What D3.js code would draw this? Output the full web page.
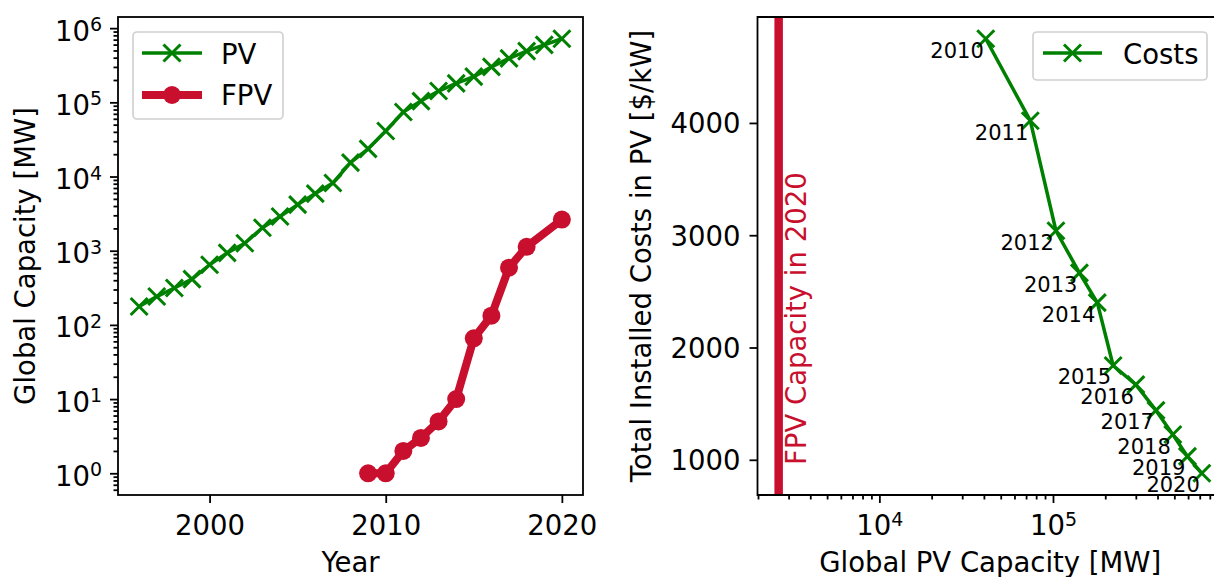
<!DOCTYPE html>
<html>
<head>
<meta charset="utf-8">
<script src="https://cdn.jsdelivr.net/npm/d3@7/dist/d3.min.js"></script>
<style>
  body { margin: 0; background: #fff; }
  svg { display: block; font-family: 'DejaVu Sans', sans-serif; }
  .axis path, .axis line { stroke: #000; stroke-width: 1.8; }
  .axis text { fill: #000; font-size: 27.5px; font-family: 'DejaVu Sans', sans-serif; }
</style>
</head>
<body>
<svg id="chart" width="1214" height="577"></svg>
<script>
// global PV capacity per year [MW]
const pvYears = [1996, 1997, 1998, 1999, 2000, 2001, 2002, 2003, 2004, 2005, 2006, 2007, 2008,
  2009, 2010, 2011, 2012, 2013, 2014, 2015, 2016, 2017, 2018, 2019, 2020];
const pvCapacity = [177, 241, 314, 414, 647, 935, 1260, 2040, 2890, 4180, 5890, 8180, 15400,
  23600, 41000, 74000, 104000, 142000, 180000, 222000, 300000, 392000, 490000, 595000, 720000];

// floating PV capacity [MW]
const fpvYears = [2009, 2010, 2011, 2012, 2013, 2014, 2015, 2016, 2017, 2018, 2020];
const fpvCapacity = [1, 1, 2, 3, 5, 10, 66, 133, 590, 1130, 2630];

// total installed costs [$/kW]
const costYears = [2010, 2011, 2012, 2013, 2014, 2015, 2016, 2017, 2018, 2019, 2020];
const costValues = [4750, 4020, 3040, 2665, 2400, 1840, 1670, 1440, 1225, 1030, 880];

const yearTicks = [2000, 2010, 2020];
const capTickExps = [0, 1, 2, 3, 4, 5, 6];
const costTicks = [1000, 2000, 3000, 4000];
const pvCapTickExps = [4, 5];

const GREEN = '#008000';
const RED = '#c8102e';
const FS = 27.5;

const svg = d3.select('#chart');

function padLinear(ext, f = 0.05) {
  const d = ext[1] - ext[0];
  return [ext[0] - d * f, ext[1] + d * f];
}
function padLog(ext, f = 0.05) {
  const a = Math.log10(ext[0]), b = Math.log10(ext[1]);
  const d = b - a;
  return [Math.pow(10, a - d * f), Math.pow(10, b + d * f)];
}
function minorLogTicks(domain) {
  const out = [];
  for (let e = Math.floor(Math.log10(domain[0])); e <= Math.ceil(Math.log10(domain[1])); e++) {
    for (let m = 2; m <= 9; m++) {
      const v = m * Math.pow(10, e);
      if (v >= domain[0] && v <= domain[1]) out.push(v);
    }
  }
  return out;
}
function powerLabel(text, d) {
  const t = d3.select(text);
  t.text(null);
  t.append('tspan').text('10');
  t.append('tspan').attr('dy', -9.5).attr('font-size', 19).text(Math.round(Math.log10(d)));
}
function xMarker(g, x, y, h) {
  g.append('path')
    .attr('d', `M${x - h},${y - h}L${x + h},${y + h}M${x - h},${y + h}L${x + h},${y - h}`)
    .attr('stroke', GREEN)
    .attr('stroke-width', 3)
    .attr('fill', 'none');
}

// ---------- left panel ----------
const L = { left: 118, right: 583, top: 17, bottom: 495 };

const xYear = d3.scaleLinear()
  .domain(padLinear(d3.extent(pvYears.concat(fpvYears))))
  .range([L.left, L.right]);

const yCap = d3.scaleLog()
  .domain(padLog([d3.min(fpvCapacity), d3.max(pvCapacity)]))
  .range([L.bottom, L.top]);

const left = svg.append('g');

// minor y ticks
left.append('g')
  .attr('class', 'axis')
  .attr('transform', `translate(${L.left},0)`)
  .call(d3.axisLeft(yCap).tickValues(minorLogTicks(yCap.domain())).tickSize(4.5).tickFormat(''))
  .call((a) => a.select('.domain').remove());

left.append('g')
  .attr('class', 'axis')
  .attr('transform', `translate(${L.left},0)`)
  .call(d3.axisLeft(yCap).tickValues(capTickExps.map((e) => Math.pow(10, e))).tickSize(8).tickPadding(8))
  .call((a) => a.select('.domain').remove())
  .selectAll('.tick text')
  .attr('dy', 12)
  .each(function (d) { powerLabel(this, d); });

left.append('g')
  .attr('class', 'axis')
  .attr('transform', `translate(0,${L.bottom})`)
  .call(d3.axisBottom(xYear).tickValues(yearTicks).tickSize(8).tickFormat(d3.format('d')))
  .call((a) => a.select('.domain').remove())
  .selectAll('text')
  .attr('y', 40)
  .attr('dy', 0);

// PV line
const pvLine = d3.line()
  .x((d, i) => xYear(pvYears[i]))
  .y((d) => yCap(d));

left.append('path')
  .datum(pvCapacity)
  .attr('d', pvLine)
  .attr('fill', 'none')
  .attr('stroke', GREEN)
  .attr('stroke-width', 3.5)
  .attr('stroke-linejoin', 'round');

const pvMarks = left.append('g');
pvCapacity.forEach((v, i) => xMarker(pvMarks, xYear(pvYears[i]), yCap(v), 8.5));

// FPV line
const fpvLine = d3.line()
  .x((d, i) => xYear(fpvYears[i]))
  .y((d) => yCap(d));

left.append('path')
  .datum(fpvCapacity)
  .attr('d', fpvLine)
  .attr('fill', 'none')
  .attr('stroke', RED)
  .attr('stroke-width', 8)
  .attr('stroke-linejoin', 'round');

left.selectAll('.fpv-dot')
  .data(fpvCapacity)
  .enter()
  .append('circle')
  .attr('cx', (d, i) => xYear(fpvYears[i]))
  .attr('cy', (d) => yCap(d))
  .attr('r', 9)
  .attr('fill', RED);

left.append('rect')
  .attr('x', L.left)
  .attr('y', L.top)
  .attr('width', L.right - L.left)
  .attr('height', L.bottom - L.top)
  .attr('fill', 'none')
  .attr('stroke', '#000')
  .attr('stroke-width', 1.8);

// legend
const lg = left.append('g');
lg.append('rect')
  .attr('x', 133).attr('y', 32).attr('width', 150).attr('height', 87)
  .attr('rx', 4)
  .attr('fill', 'rgba(255,255,255,0.8)')
  .attr('stroke', '#cfcfcf')
  .attr('stroke-width', 1.6);
lg.append('line')
  .attr('x1', 142).attr('x2', 202).attr('y1', 53).attr('y2', 53)
  .attr('stroke', GREEN).attr('stroke-width', 3.5);
xMarker(lg, 172, 53, 8.5);
lg.append('text').attr('x', 221).attr('y', 63.5).attr('font-size', FS).text('PV');
lg.append('line')
  .attr('x1', 142).attr('x2', 202).attr('y1', 95).attr('y2', 95)
  .attr('stroke', RED).attr('stroke-width', 8);
lg.append('circle').attr('cx', 172).attr('cy', 95).attr('r', 9).attr('fill', RED);
lg.append('text').attr('x', 221).attr('y', 104.5).attr('font-size', FS).text('FPV');

left.append('text')
  .attr('x', (L.left + L.right) / 2)
  .attr('y', 572)
  .attr('text-anchor', 'middle')
  .attr('font-size', FS)
  .text('Year');

left.append('text')
  .attr('transform', `translate(35,${(L.top + L.bottom) / 2}) rotate(-90)`)
  .attr('text-anchor', 'middle')
  .attr('font-size', FS)
  .text('Global Capacity [MW]');

// ---------- right panel ----------
const R = { left: 757.5, right: 1223, top: 17, bottom: 495 };

const costCapacity = costYears.map((yr) => pvCapacity[pvYears.indexOf(yr)]);
const fpvLast = fpvCapacity[fpvCapacity.length - 1];

const xPv = d3.scaleLog()
  .domain(padLog([Math.min(fpvLast, d3.min(costCapacity)), d3.max(costCapacity)]))
  .range([R.left, R.right]);

const yCost = d3.scaleLinear()
  .domain(padLinear(d3.extent(costValues)))
  .range([R.bottom, R.top]);

const right = svg.append('g');

right.append('g')
  .attr('class', 'axis')
  .attr('transform', `translate(0,${R.bottom})`)
  .call(d3.axisBottom(xPv).tickValues(minorLogTicks(xPv.domain())).tickSize(4.5).tickFormat(''))
  .call((a) => a.select('.domain').remove());

right.append('g')
  .attr('class', 'axis')
  .attr('transform', `translate(0,${R.bottom})`)
  .call(d3.axisBottom(xPv).tickValues(pvCapTickExps.map((e) => Math.pow(10, e))).tickSize(8))
  .call((a) => a.select('.domain').remove())
  .selectAll('.tick text')
  .attr('y', 40)
  .attr('dy', 0)
  .each(function (d) { powerLabel(this, d); });

right.append('g')
  .attr('class', 'axis')
  .attr('transform', `translate(${R.left},0)`)
  .call(d3.axisLeft(yCost).tickValues(costTicks).tickSize(8).tickPadding(9).tickFormat(d3.format('d')))
  .call((a) => a.select('.domain').remove())
  .selectAll('text')
  .attr('dy', '0.36em');

// FPV capacity marker line
right.append('line')
  .attr('x1', xPv(fpvLast)).attr('x2', xPv(fpvLast))
  .attr('y1', R.top).attr('y2', R.bottom)
  .attr('stroke', RED)
  .attr('stroke-width', 8.5);

right.append('text')
  .attr('transform', `translate(${xPv(fpvLast) + 27},465) rotate(-90)`)
  .attr('fill', RED)
  .attr('font-size', FS)
  .text('FPV Capacity in 2020');

const costLine = d3.line()
  .x((d, i) => xPv(costCapacity[i]))
  .y((d) => yCost(d));

right.append('path')
  .datum(costValues)
  .attr('d', costLine)
  .attr('fill', 'none')
  .attr('stroke', GREEN)
  .attr('stroke-width', 3.5)
  .attr('stroke-linejoin', 'round');

const costMarks = right.append('g');
costValues.forEach((v, i) => xMarker(costMarks, xPv(costCapacity[i]), yCost(v), 8.5));

right.selectAll('.year-label')
  .data(costValues)
  .enter()
  .append('text')
  .attr('x', (d, i) => xPv(costCapacity[i]) - 2)
  .attr('y', (d) => yCost(d) + 19)
  .attr('text-anchor', 'end')
  .attr('font-size', 21)
  .text((d, i) => costYears[i]);

// spines (right spine falls outside the picture)
right.append('path')
  .attr('d', `M${R.right},${R.top}H${R.left}V${R.bottom}H${R.right}`)
  .attr('fill', 'none')
  .attr('stroke', '#000')
  .attr('stroke-width', 1.8);

const rg = right.append('g');
rg.append('rect')
  .attr('x', 1033).attr('y', 32).attr('width', 174).attr('height', 48)
  .attr('rx', 4)
  .attr('fill', 'rgba(255,255,255,0.8)')
  .attr('stroke', '#cfcfcf')
  .attr('stroke-width', 1.6);
rg.append('line')
  .attr('x1', 1043).attr('x2', 1102).attr('y1', 53).attr('y2', 53)
  .attr('stroke', GREEN).attr('stroke-width', 3.5);
xMarker(rg, 1072.5, 53, 8.5);
rg.append('text').attr('x', 1123).attr('y', 63.5).attr('font-size', FS).text('Costs');

right.append('text')
  .attr('x', (R.left + R.right) / 2)
  .attr('y', 572)
  .attr('text-anchor', 'middle')
  .attr('font-size', FS)
  .text('Global PV Capacity [MW]');

right.append('text')
  .attr('transform', `translate(651,${(R.top + R.bottom) / 2}) rotate(-90)`)
  .attr('text-anchor', 'middle')
  .attr('font-size', FS)
  .text('Total Installed Costs in PV [$/kW]');
</script>
</body>
</html>
